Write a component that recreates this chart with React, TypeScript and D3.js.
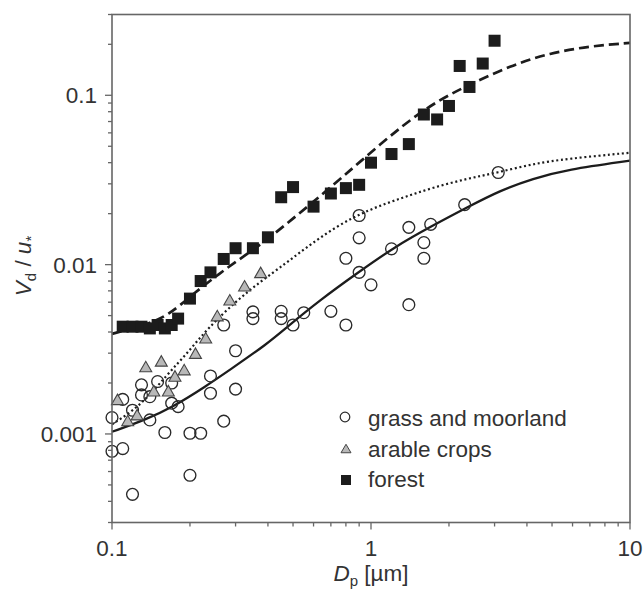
import React from "react";
import * as d3 from "d3";

// measured deposition velocities (V_d / u*) vs particle diameter D_p [µm]
const grassX = [0.1, 0.1, 0.11, 0.11, 0.12, 0.12, 0.13, 0.13, 0.14, 0.14, 0.15, 0.16, 0.17, 0.17, 0.18, 0.2, 0.2, 0.22, 0.24, 0.24, 0.27, 0.27, 0.3, 0.3, 0.35, 0.35, 0.45, 0.45, 0.5, 0.55, 0.7, 0.8, 0.8, 0.9, 0.9, 0.9, 1.0, 1.2, 1.4, 1.4, 1.6, 1.6, 1.7, 2.3, 3.1];
const grassY = [0.00125, 0.00079, 0.00082, 0.0016, 0.00138, 0.00044, 0.00195, 0.0017, 0.00121, 0.00166, 0.00204, 0.00102, 0.002, 0.00152, 0.00145, 0.00101, 0.00057, 0.00101, 0.0022, 0.00174, 0.00119, 0.0044, 0.0031, 0.00184, 0.00526, 0.0048, 0.0053, 0.0048, 0.0044, 0.0052, 0.0053, 0.0044, 0.0109, 0.0195, 0.0144, 0.009, 0.0076, 0.0124, 0.0166, 0.0058, 0.0135, 0.0109, 0.0173, 0.0226, 0.035];

const arableX = [0.105, 0.115, 0.125, 0.135, 0.145, 0.155, 0.165, 0.175, 0.19, 0.21, 0.23, 0.255, 0.285, 0.325, 0.375];
const arableY = [0.0016, 0.0012, 0.0013, 0.0025, 0.0018, 0.0027, 0.0018, 0.0022, 0.0024, 0.003, 0.0037, 0.005, 0.0062, 0.0075, 0.009];

const forestX = [0.11, 0.12, 0.13, 0.14, 0.15, 0.16, 0.17, 0.18, 0.2, 0.22, 0.24, 0.27, 0.3, 0.35, 0.4, 0.45, 0.5, 0.6, 0.7, 0.8, 0.9, 1.0, 1.2, 1.4, 1.6, 1.8, 2.0, 2.2, 2.4, 2.7, 3.0];
const forestY = [0.0043, 0.0043, 0.0043, 0.0042, 0.0044, 0.0042, 0.0044, 0.0048, 0.0063, 0.008, 0.009, 0.0108, 0.0125, 0.0125, 0.0145, 0.025, 0.0287, 0.022, 0.0263, 0.0283, 0.0296, 0.04, 0.045, 0.0515, 0.077, 0.072, 0.0865, 0.149, 0.112, 0.154, 0.21];

// model curves
const solidX = [0.1, 0.134, 0.17, 0.229, 0.285, 0.397, 0.474, 0.635, 0.883, 1.24, 1.73, 2.34, 3.15, 4.22, 5.7, 10];
const solidY = [0.00103, 0.00121, 0.00143, 0.0019, 0.00239, 0.0034, 0.00428, 0.00617, 0.00889, 0.0128, 0.017, 0.0217, 0.0274, 0.0322, 0.0364, 0.0411];

const dottedX = [0.1, 0.128, 0.163, 0.197, 0.235, 0.301, 0.376, 0.466, 0.546, 0.739, 1.0, 1.33, 1.73, 2.35, 3.07, 4.22, 5.71, 10];
const dottedY = [0.00114, 0.00145, 0.00223, 0.00305, 0.00422, 0.00608, 0.00798, 0.0101, 0.0122, 0.017, 0.0214, 0.0249, 0.0285, 0.0322, 0.0349, 0.0394, 0.0422, 0.0458];

const dashedX = [0.1, 0.134, 0.165, 0.205, 0.278, 0.373, 0.5, 0.676, 0.907, 1.33, 1.8, 2.41, 3.44, 4.91, 7.01, 10];
const dashedY = [0.0039, 0.0044, 0.005, 0.0067, 0.0096, 0.013, 0.0187, 0.0274, 0.0405, 0.067, 0.0926, 0.116, 0.149, 0.178, 0.195, 0.204];

const xTickLabels = ["0.1", "1", "10"];
const yTickLabels = ["0.001", "0.01", "0.1"];
const legendLabels = ["grass and moorland", "arable crops", "forest"];

const W = 643;
const H = 595;
const font = "'Liberation Sans', Arial, Helvetica, sans-serif";
const ink = "#1c1c1c";
const axisCol = "#666";
const textCol = "#333";

const zip = (a: number[], b: number[]) => a.map((v, i) => [v, b[i]] as [number, number]);
const isMajor = (v: number) => Math.abs(Math.log10(v) - Math.round(Math.log10(v))) < 1e-6;

export default function App() {
  const x = d3.scaleLog().domain([0.1, 10]).range([112, 630]);
  const y = d3.scaleLog().domain([0.0003, 0.3]).range([522.5, 14.5]);
  const [x0, x1] = x.range();
  const [y0, y1] = y.range();

  const line = d3
    .line<[number, number]>()
    .x((d) => x(d[0]))
    .y((d) => y(d[1]))
    .curve(d3.curveBasis);

  const tri = (cx: number, cy: number, w: number, h: number) =>
    `M${cx - w / 2},${cy + h / 2}L${cx},${cy - h / 2}L${cx + w / 2},${cy + h / 2}Z`;

  const sq = 12;

  return (
    <svg width={W} height={H} style={{ position: "absolute", left: 0, top: 0, background: "#fff" }}>
      {/* curves */}
      <path d={line(zip(solidX, solidY)) || ""} fill="none" stroke={ink} strokeWidth={2.3} />
      <path d={line(zip(dottedX, dottedY)) || ""} fill="none" stroke={ink} strokeWidth={2.2} strokeDasharray="2,2.7" />
      <path d={line(zip(dashedX, dashedY)) || ""} fill="none" stroke={ink} strokeWidth={2.7} strokeDasharray="10,5" />

      {/* grass and moorland */}
      {grassX.map((v, i) => (
        <circle key={"g" + i} cx={x(v)} cy={y(grassY[i])} r={5.9} fill="none" stroke="#2a2a2a" strokeWidth={1.35} />
      ))}
      {/* arable crops */}
      {arableX.map((v, i) => (
        <path key={"a" + i} d={tri(x(v), y(arableY[i]), 12, 10.5)} fill="#b8b8b8" stroke="#444" strokeWidth={1.1} />
      ))}
      {/* forest */}
      {forestX.map((v, i) => (
        <rect key={"f" + i} x={x(v) - sq / 2} y={y(forestY[i]) - sq / 2} width={sq} height={sq} fill={ink} />
      ))}

      {/* frame */}
      <rect x={x0} y={y1} width={x1 - x0} height={y0 - y1} fill="none" stroke={axisCol} strokeWidth={1.6} />

      {/* x ticks */}
      {x.ticks().map((t, i) => (
        <line key={"xt" + i} x1={x(t)} x2={x(t)} y1={y0} y2={y0 + (isMajor(t) ? 7 : 4)} stroke={axisCol} strokeWidth={1.3} />
      ))}
      {xTickLabels.map((l) => (
        <text key={"xl" + l} x={x(+l)} y={556} textAnchor="middle" fontFamily={font} fontSize={22.5} fill={textCol}>
          {l}
        </text>
      ))}

      {/* y ticks */}
      {y.ticks().map((t, i) => (
        <line key={"yt" + i} x1={x0} x2={x0 - (isMajor(t) ? 7 : 4)} y1={y(t)} y2={y(t)} stroke={axisCol} strokeWidth={1.3} />
      ))}
      {yTickLabels.map((l) => (
        <text key={"yl" + l} x={97} y={y(+l)} dy="0.36em" textAnchor="end" fontFamily={font} fontSize={22.5} fill={textCol}>
          {l}
        </text>
      ))}

      {/* axis titles */}
      <text x={371} y={581} textAnchor="middle" fontFamily={font} fontSize={22.5} fill={textCol}>
        <tspan fontStyle="italic">D</tspan>
        <tspan fontSize={15} dy={5}>p</tspan>
        <tspan dy={-5}> [µm]</tspan>
      </text>
      <text transform="translate(31,266) rotate(-90)" textAnchor="middle" fontFamily={font} fontSize={22.5} fill={textCol}>
        <tspan fontStyle="italic">V</tspan>
        <tspan fontSize={15} dy={5}>d</tspan>
        <tspan dy={-5}> / </tspan>
        <tspan fontStyle="italic">u</tspan>
        <tspan fontSize={15} dy={5}>*</tspan>
      </text>

      {/* legend */}
      <circle cx={345} cy={417} r={4.8} fill="none" stroke="#2a2a2a" strokeWidth={1.2} />
      <path d={tri(346, 448.5, 10, 8.5)} fill="#b8b8b8" stroke="#444" strokeWidth={1} />
      <rect x={341} y={475} width={10} height={10} fill={ink} />
      {legendLabels.map((l, i) => (
        <text key={l} x={368} y={426 + i * 30.5} fontFamily={font} fontSize={22.5} fill={textCol}>
          {l}
        </text>
      ))}
    </svg>
  );
}
